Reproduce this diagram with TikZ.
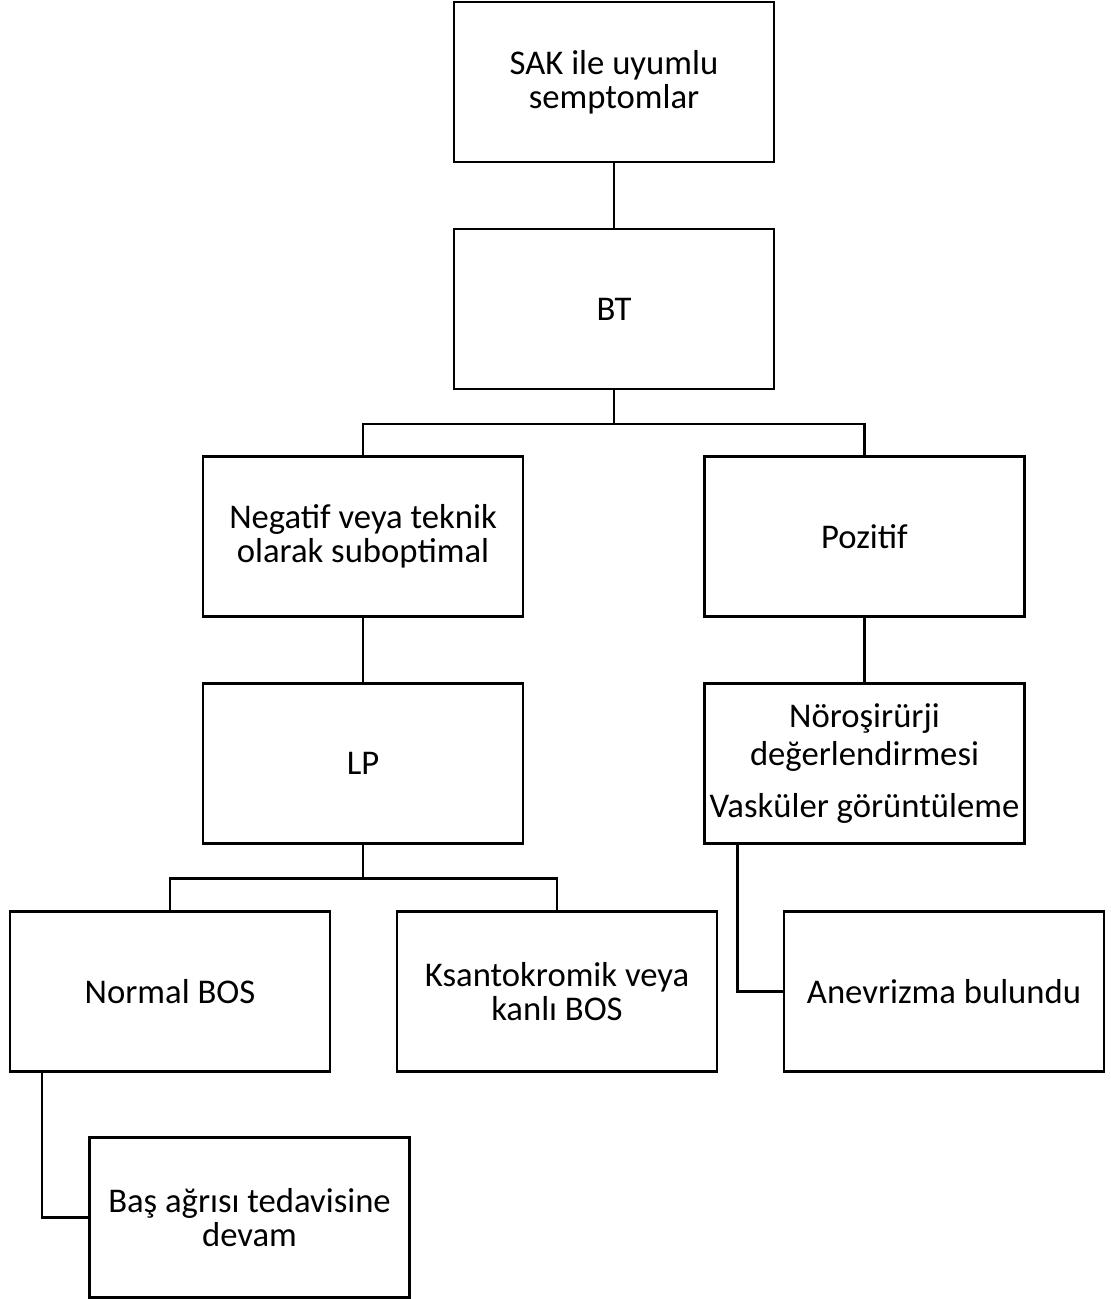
\documentclass[tikz,border=0pt]{standalone}
\usepackage{fontspec}
\setmainfont{Carlito}
\begin{document}
\begin{tikzpicture}[x=0.75pt,y=-0.75pt,
  box/.style={draw=black,line width=2pt,minimum width=240pt,minimum height=120pt,
    inner sep=0pt,outer sep=0pt,align=center,font=\fontsize{26}{25.5}\selectfont},
  conn/.style={draw=black,line width=2pt}]
\useasboundingbox (0,0) rectangle (1110,1299);
\node[box] (sak) at (614,82) {SAK ile uyumlu\\semptomlar};
\node[box] (bt) at (614,309) {BT};
\node[box] (neg) at (363,536.5) {Negatif veya teknik\\olarak suboptimal};
\node[box] (poz) at (864.5,536.5) {Pozitif};
\node[box] (lp) at (363,763.5) {LP};
\node[box,font=\fontsize{26}{28.5}\selectfont] (noro) at (864.5,763.5) {Nöroşirürji\\değerlendirmesi\\[10.5pt]Vasküler görüntüleme};
\node[box] (normal) at (170,991.5) {Normal BOS};
\node[box] (ksan) at (557,991.5) {Ksantokromik veya\\kanlı BOS};
\node[box] (anev) at (944,991.5) {Anevrizma bulundu};
\node[box] (bas) at (249.5,1217.5) {Baş ağrısı tedavisine\\devam};
\draw[conn] (sak.south) -- (bt.north);
\draw[conn] (bt.south) -- ++(0,35) -| (neg.north);
\draw[conn] (bt.south) -- ++(0,35) -| (poz.north);
\draw[conn] (neg.south) -- (lp.north);
\draw[conn] (poz.south) -- (noro.north);
\draw[conn] (lp.south) -- ++(0,35) -| (normal.north);
\draw[conn] (lp.south) -- ++(0,35) -| (ksan.north);
\draw[conn] ([xshift=24.75pt]noro.south west) |- (anev.west);
\draw[conn] ([xshift=24pt]normal.south west) |- (bas.west);
\end{tikzpicture}
\end{document}
